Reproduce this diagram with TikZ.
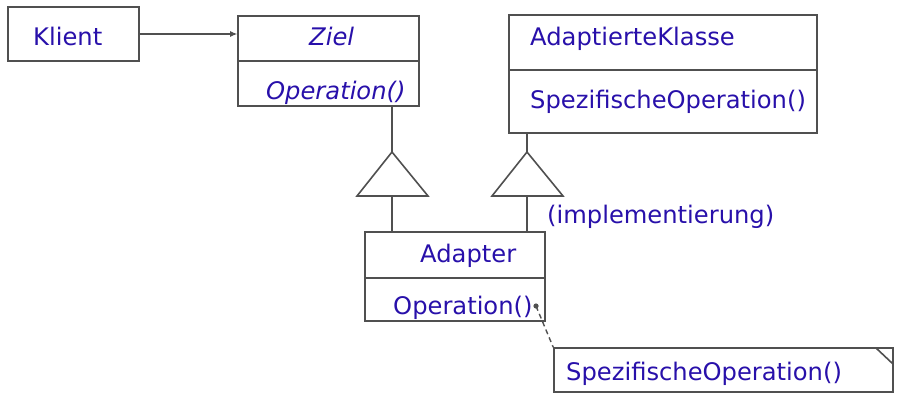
\documentclass[tikz,border=0pt]{standalone}
\usepackage{fontspec}
\setmainfont{DejaVu Sans}
\usetikzlibrary{arrows.meta}
\definecolor{txt}{RGB}{40,16,170}
\definecolor{ln}{RGB}{80,80,80}
\begin{document}
\begin{tikzpicture}[x=1pt,y=-1pt,
  box/.style={draw=ln,line width=1.6pt,rectangle,inner sep=0pt},
  lbl/.style={text=txt,inner sep=0pt,anchor=base west,font=\fontsize{24.2}{27}\selectfont},
  conn/.style={draw=ln,line width=1.6pt},
  tri/.style={draw=ln,line width=1.6pt,fill=white}]
\useasboundingbox[fill=white] (0,0) rectangle (899,402);
% boxes
\node[box,minimum width=131pt,minimum height=54pt] (klient) at (73.5,34) {};
\node[box,minimum width=181pt,minimum height=90pt] (ziel) at (328.5,61) {};
\node[box,minimum width=308pt,minimum height=118pt] (adaptee) at (663,74) {};
\node[box,minimum width=180pt,minimum height=89pt] (adapter) at (455,276.5) {};
\node[box,minimum width=339pt,minimum height=44pt] (note) at (723.5,370) {};
% dividers
\draw[conn] (ziel.west |- 0,61) -- (ziel.east |- 0,61);
\draw[conn] (adaptee.west |- 0,70) -- (adaptee.east |- 0,70);
\draw[conn] (adapter.west |- 0,278) -- (adapter.east |- 0,278);
% note fold
\coordinate (f1) at (876,348);
\coordinate (f2) at (893,364);
\draw[conn] (f1) -- (f2);
% texts
\node[lbl] (tklient) at (33,45) {Klient};
\node[lbl] (tziel) at (309,45) {\itshape Ziel};
\node[lbl] (tzop) at (266,99) {\itshape Operation()};
\node[lbl] (tadaptee) at (530,45) {AdaptierteKlasse};
\node[lbl] (taop) at (530,108) {SpezifischeOperation()};
\node[lbl] (tadapter) at (420,262) {Adapter};
\node[lbl] (tdop) at (393,314) {Operation()};
\node[lbl] (timpl) at (547,223) {(implementierung)};
\node[lbl] (tnote) at (566,380) {SpezifischeOperation()};
% association
\draw[conn,line width=1.1pt,-{Latex[length=7pt,width=6pt]}] (klient.east) -- (ziel.west |- klient.east);
% generalization left
\coordinate (la) at (392,152);
\coordinate (lb) at (392,196);
\draw[conn] (ziel.south -| la) -- (la);
\draw[tri] (la) -- (357,196) -- (428,196) -- cycle;
\draw[conn] (lb) -- (adapter.north -| lb);
% generalization right
\coordinate (ra) at (527,152);
\coordinate (rb) at (527,196);
\draw[conn] (adaptee.south -| ra) -- (ra);
\draw[tri] (ra) -- (492,196) -- (563,196) -- cycle;
\draw[conn] (rb) -- (adapter.north -| rb);
% note link
\coordinate (dot) at (536,306);
\fill[ln] (dot) circle (2.6pt);
\draw[conn,dash pattern=on 5pt off 3.5pt,line width=1.4pt] (dot) -- (note.north west);
\end{tikzpicture}
\end{document}
